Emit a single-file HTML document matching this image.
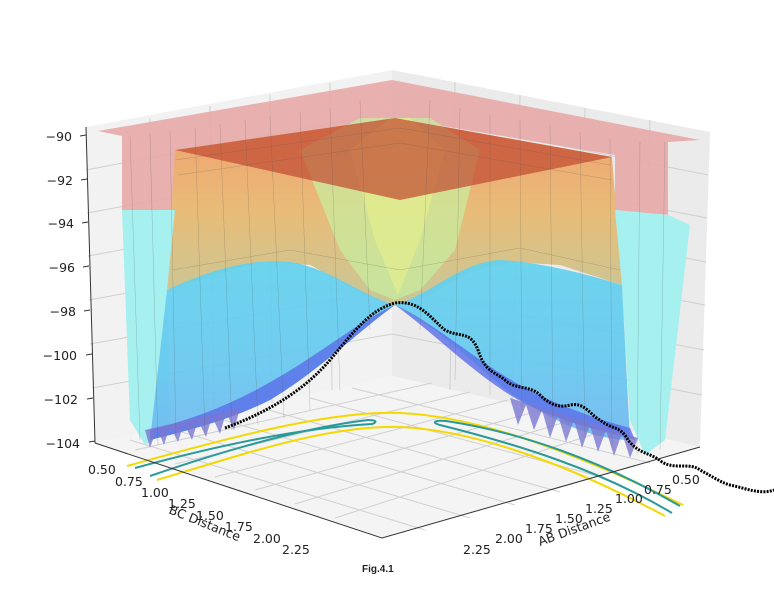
<!DOCTYPE html><html><head><style>body{margin:0;background:#fff}svg{display:block}text{font-family:"DejaVu Sans","Liberation Sans",sans-serif;font-size:12.5px;fill:#222}</style></head><body>
<svg width="774" height="600" viewBox="0 0 774 600" xmlns="http://www.w3.org/2000/svg">
<defs>
<linearGradient id="og" x1="0" y1="0" x2="0" y2="1"><stop offset="0" stop-color="#f2a070"/><stop offset="0.5" stop-color="#e8bc78"/><stop offset="1" stop-color="#c8c898"/></linearGradient>
<linearGradient id="bg" x1="0" y1="0" x2="0" y2="1"><stop offset="0" stop-color="#62d2ee"/><stop offset="0.6" stop-color="#66c8f0"/><stop offset="1" stop-color="#70b8f0"/></linearGradient>
</defs>
<polygon points="86,127 392,70 392,376 95,443" fill="#f2f2f2"/>
<polygon points="392,70 710,132 700,447 392,376" fill="#ebebeb"/>
<polygon points="95,443 392,376 700,447 382,538" fill="#f4f4f4"/>
<g stroke="#d0d0d0" stroke-width="1" fill="none">
<path d="M86,170 L392,112 L708,175 M87,213 L392,157 L707,218 M88,256 L392,200 L706,262 M89,300 L392,245 L705,305 M90,344 L392,290 L704,350 M92,388 L392,334 L702,395"/>
<path d="M150,118 L155,430 M210,106 L214,417 M270,95 L272,403 M330,83 L332,390 M455,82 L450,390 M520,95 L512,405 M585,108 L576,419 M650,120 L640,433"/>
<path d="M135,450 L432,383 M175,464 L470,392 M215,477 L508,400 M255,490 L545,409 M295,504 L582,417 M335,518 L622,425"/>
<path d="M425,530 L130,440 M470,518 L175,430 M515,505 L220,419 M560,492 L265,409 M605,478 L310,398 M650,463 L352,388"/>
</g>
<polygon points="98,131 392,80 700,140 668,142 668,215 615,210 615,155 395,118 175,150 175,210 122,210 122,136" fill="#e8a8a8" opacity="0.9"/>
<polygon points="175,150 395,118 612,157 622,285 560,265 510,262 470,272 420,300 392,305 360,292 310,265 260,262 167,290" fill="url(#og)"/>
<polygon points="300,150 360,118 430,118 480,150 455,250 420,290 395,300 370,290 340,250" fill="#c8f0a0" opacity="0.7"/>
<polygon points="350,150 390,118 410,118 445,150 420,240 398,295 375,240" fill="#e8f08c" opacity="0.6"/>
<polygon points="175,150 395,118 612,157 400,200" fill="#c04830" opacity="0.7"/>
<polygon points="122,210 175,210 167,290 170,430 145,445 130,420" fill="#a6f0f0"/>
<polygon points="615,210 668,215 690,225 665,440 645,455 630,420 622,285" fill="#a6f0f0"/>
<path d="M167,290 C210,270 250,258 290,262 C330,268 360,295 395,305 C430,295 460,262 500,260 C540,262 590,275 622,285 L630,440 C600,440 560,425 530,405 C490,385 460,340 395,305 C360,330 320,370 270,400 C230,420 190,430 150,440 Z" fill="url(#bg)" opacity="0.92"/>
<path d="M395,305 C360,330 320,370 270,400 C230,420 190,430 150,440 L150,430 C190,420 230,405 265,385 C320,355 360,320 395,305 Z" fill="#5a6ee8" opacity="0.8"/>
<path d="M395,305 C430,330 470,370 510,395 C550,420 600,430 635,440 L630,428 C600,420 555,405 520,385 C475,360 430,320 395,305 Z" fill="#5a6ee8" opacity="0.8"/>
<g fill="#7a78d0" opacity="0.8">
<path d="M145,430 L150,448 L157,428 L164,445 L170,426 L178,442 L184,423 L192,440 L198,420 L206,437 L212,416 L220,434 L226,412 L234,430 L240,408 Z"/>
<path d="M510,398 L518,425 L526,405 L534,430 L542,410 L550,438 L558,415 L566,442 L574,420 L582,448 L590,425 L598,452 L606,430 L614,456 L622,433 L630,458 L638,438 Z"/>
</g>
<g stroke="#555" stroke-width="0.5" opacity="0.35" fill="none">
<path d="M130,136 L140,440 M150,134 L158,445 M170,131 L176,440 M195,128 L205,435 M220,124 L232,430 M245,120 L258,425 M270,116 L284,418 M300,112 L310,410 M330,108 L340,390 M360,100 L370,330 M430,100 L420,330 M460,108 L455,380 M490,114 L490,395 M520,120 L522,410 M550,126 L553,425 M580,132 L585,438 M610,138 L612,450 M640,142 L637,455 M665,142 L660,450"/>
<path d="M175,160 L400,128 L610,165 M178,175 L400,143 L612,180 M172,270 L290,250 L400,270 L520,248 L620,270"/>
</g>
<path d="M225,428 C260,415 300,395 330,360 C355,330 370,310 395,303 C420,300 430,318 445,330 C460,338 470,330 478,350 C485,372 495,372 505,380 C515,390 530,385 540,395 C550,405 560,408 570,405 C585,402 590,415 600,420 C612,430 620,425 628,440 C640,455 650,452 662,462 C675,470 690,462 700,470 C715,478 720,482 730,485 C745,488 760,495 774,490" fill="none" stroke="#000" stroke-width="3" stroke-dasharray="2,1.2"/>
<g fill="none" stroke-width="2">
<path d="M127,466 C220,440 330,410 400,413 C470,416 560,445 683,505" stroke="#f5d800"/>
<path d="M157,480 C250,452 330,425 400,427 C470,430 560,460 665,516" stroke="#f5d800"/>
<path d="M135,468 C220,445 300,428 372,424 C378,422 376,420 368,420 C300,428 220,452 150,476" stroke="#2a9a98"/>
<path d="M672,513 C600,470 520,445 440,425 C430,422 436,420 446,421 C520,432 600,460 680,506" stroke="#2a9a98"/>
</g>
<g stroke="#333" stroke-width="1" fill="none">
<path d="M86,127 L95,443 M95,443 L382,538 L700,447"/>
<path d="M86,135 L80,136 M87,179 L81,180 M88,222 L82,223 M89,266 L83,267 M90,310 L84,311 M92,354 L86,355 M93,398 L87,399 M95,441 L89,442"/>
</g>
<g text-anchor="end">
<text x="72" y="141">−90</text><text x="73" y="185">−92</text><text x="74" y="228">−94</text><text x="75" y="272">−96</text><text x="76" y="316">−98</text><text x="77" y="360">−100</text><text x="78" y="404">−102</text><text x="80" y="448">−104</text>
</g>
<g>
<text x="88" y="474">0.50</text><text x="115" y="486">0.75</text><text x="141" y="497">1.00</text><text x="168" y="508">1.25</text><text x="196" y="520">1.50</text><text x="225" y="531">1.75</text><text x="253" y="543">2.00</text><text x="282" y="554">2.25</text>
<text x="672" y="484">0.50</text><text x="644" y="494">0.75</text><text x="615" y="503">1.00</text><text x="585" y="513">1.25</text><text x="555" y="523">1.50</text><text x="525" y="533">1.75</text><text x="495" y="543">2.00</text><text x="463" y="554">2.25</text>
<text transform="translate(168,513) rotate(22)">BC Distance</text>
<text transform="translate(540,546) rotate(-20)">AB Distance</text>
</g>
<text x="362" y="572" style="font-size:10px;font-weight:bold;font-family:'Liberation Sans',sans-serif">Fig.4.1</text>
</svg></body></html>
